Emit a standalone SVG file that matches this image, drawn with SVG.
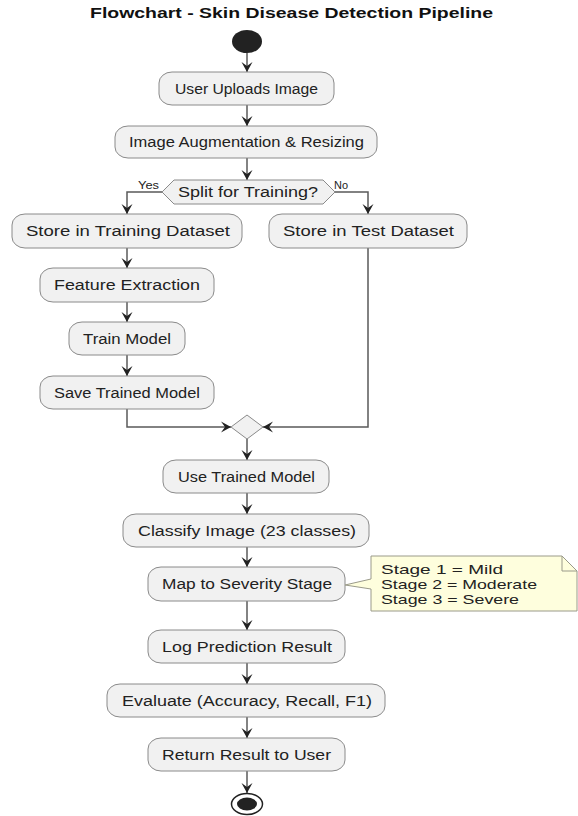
<svg xmlns="http://www.w3.org/2000/svg" width="578" height="816" viewBox="0 0 578 816">
<style>
.bg{fill:#ffffff}
.box{fill:#f1f1f1;stroke:#8a8a8a;stroke-width:1}
.t{font-family:"Liberation Sans",Arial,sans-serif;font-size:14px;fill:#222222}
.lbl{font-family:"Liberation Sans",Arial,sans-serif;font-size:11px;fill:#222222}
.title{font-family:"Liberation Sans",Arial,sans-serif;font-size:14px;font-weight:bold;fill:#111111}
.note{fill:#fefedd;stroke:#9a9a8a;stroke-width:1}
.nt{font-family:"Liberation Sans",Arial,sans-serif;font-size:13.5px;fill:#222222}
.c{fill:none;stroke:#5a5a5a;stroke-width:1.5}
</style>
<defs>
<marker id="ah" markerUnits="userSpaceOnUse" markerWidth="12" markerHeight="12" refX="10" refY="5.5" orient="auto" viewBox="0 0 12 11">
<path d="M0,0 L10,5.5 L0,11 L4,5.5 Z" fill="#222222"/>
</marker>
</defs>
<rect class="bg" x="0" y="0" width="578" height="816"/>
<text class="title" x="90" y="18" textLength="403" lengthAdjust="spacingAndGlyphs">Flowchart - Skin Disease Detection Pipeline</text>

<g id="connectors">
<path class="c" d="M247,53 L247,72" marker-end="url(#ah)"/>
<path class="c" d="M247,105 L247,126" marker-end="url(#ah)"/>
<path class="c" d="M247,158 L247,180" marker-end="url(#ah)"/>
<path class="c" d="M162,192 L127,192 L127,214" marker-end="url(#ah)"/>
<path class="c" d="M335,192 L368,192 L368,214" marker-end="url(#ah)"/>
<path class="c" d="M127,248 L127,268" marker-end="url(#ah)"/>
<path class="c" d="M127,302 L127,322" marker-end="url(#ah)"/>
<path class="c" d="M127,355 L127,376" marker-end="url(#ah)"/>
<path class="c" d="M127,409 L127,427 L231,427" marker-end="url(#ah)"/>
<path class="c" d="M368,248 L368,427 L263,427" marker-end="url(#ah)"/>
<path class="c" d="M247,439 L247,460" marker-end="url(#ah)"/>
<path class="c" d="M247,493 L247,514" marker-end="url(#ah)"/>
<path class="c" d="M247,547 L247,567" marker-end="url(#ah)"/>
<path class="c" d="M247,601 L247,630" marker-end="url(#ah)"/>
<path class="c" d="M247,663 L247,684" marker-end="url(#ah)"/>
<path class="c" d="M247,717 L247,738" marker-end="url(#ah)"/>
<path class="c" d="M247,771 L247,793" marker-end="url(#ah)"/>
<text class="lbl" x="138" y="189" textLength="21" lengthAdjust="spacingAndGlyphs">Yes</text>
<text class="lbl" x="334" y="189" textLength="14" lengthAdjust="spacingAndGlyphs">No</text>
</g>

<g id="start"><ellipse cx="247" cy="41.5" rx="15" ry="11.5" fill="#222222"/></g>

<g id="n1"><rect class="box" x="159" y="72" width="175" height="33" rx="13" ry="11"/>
<text class="t" x="175" y="93.5" textLength="143" lengthAdjust="spacingAndGlyphs">User Uploads Image</text></g>

<g id="n2"><rect class="box" x="115" y="126" width="262" height="32" rx="13" ry="11"/>
<text class="t" x="129" y="147" textLength="235" lengthAdjust="spacingAndGlyphs">Image Augmentation &amp; Resizing</text></g>

<g id="d1"><polygon class="box" points="162,192 174,180 323,180 335,192 323,204 174,204"/>
<text class="t" x="178" y="196.5" textLength="140" lengthAdjust="spacingAndGlyphs">Split for Training?</text></g>

<g id="n3"><rect class="box" x="12" y="214" width="230" height="34" rx="13" ry="11"/>
<text class="t" x="26" y="236" textLength="204" lengthAdjust="spacingAndGlyphs">Store in Training Dataset</text></g>

<g id="n4"><rect class="box" x="269" y="214" width="198" height="34" rx="13" ry="11"/>
<text class="t" x="283" y="236" textLength="171" lengthAdjust="spacingAndGlyphs">Store in Test Dataset</text></g>

<g id="n5"><rect class="box" x="40" y="268" width="174" height="34" rx="13" ry="11"/>
<text class="t" x="54" y="290" textLength="146" lengthAdjust="spacingAndGlyphs">Feature Extraction</text></g>

<g id="n6"><rect class="box" x="69" y="322" width="116" height="33" rx="13" ry="11"/>
<text class="t" x="83" y="343.5" textLength="88" lengthAdjust="spacingAndGlyphs">Train Model</text></g>

<g id="n7"><rect class="box" x="40" y="376" width="174" height="33" rx="13" ry="11"/>
<text class="t" x="54" y="397.5" textLength="146" lengthAdjust="spacingAndGlyphs">Save Trained Model</text></g>

<g id="merge"><polygon class="box" points="247,415 263,427 247,439 231,427"/></g>

<g id="n8"><rect class="box" x="163" y="460" width="166" height="33" rx="13" ry="11"/>
<text class="t" x="178" y="481.5" textLength="137" lengthAdjust="spacingAndGlyphs">Use Trained Model</text></g>

<g id="n9"><rect class="box" x="123" y="514" width="246" height="33" rx="13" ry="11"/>
<text class="t" x="138" y="535.5" textLength="218" lengthAdjust="spacingAndGlyphs">Classify Image (23 classes)</text></g>

<g id="n10"><rect class="box" x="148" y="567" width="197" height="34" rx="13" ry="11"/>
<text class="t" x="162" y="589" textLength="170" lengthAdjust="spacingAndGlyphs">Map to Severity Stage</text></g>

<g id="note1"><path class="note" d="M371,556 L562,556 L577,571 L577,611 L371,611 L371,589 L345,585 L371,579 Z"/>
<path d="M562,556 L562,571 L577,571" fill="none" stroke="#9a9a8a" stroke-width="1"/>
<text class="nt" x="381" y="573.5" textLength="122" lengthAdjust="spacingAndGlyphs">Stage 1 = Mild</text>
<text class="nt" x="381" y="588.5" textLength="156" lengthAdjust="spacingAndGlyphs">Stage 2 = Moderate</text>
<text class="nt" x="381" y="603.5" textLength="138" lengthAdjust="spacingAndGlyphs">Stage 3 = Severe</text></g>

<g id="n11"><rect class="box" x="148" y="630" width="197" height="33" rx="13" ry="11"/>
<text class="t" x="162" y="651.5" textLength="170" lengthAdjust="spacingAndGlyphs">Log Prediction Result</text></g>

<g id="n12"><rect class="box" x="107" y="684" width="278" height="33" rx="13" ry="11"/>
<text class="t" x="122" y="705.5" textLength="250" lengthAdjust="spacingAndGlyphs">Evaluate (Accuracy, Recall, F1)</text></g>

<g id="n13"><rect class="box" x="148" y="738" width="197" height="33" rx="13" ry="11"/>
<text class="t" x="162" y="759.5" textLength="169" lengthAdjust="spacingAndGlyphs">Return Result to User</text></g>

<g id="end"><ellipse cx="247" cy="804" rx="15.5" ry="10.5" fill="#ffffff" stroke="#222222" stroke-width="1.5"/>
<ellipse cx="247" cy="804" rx="10" ry="6.5" fill="#222222"/></g>
</svg>
